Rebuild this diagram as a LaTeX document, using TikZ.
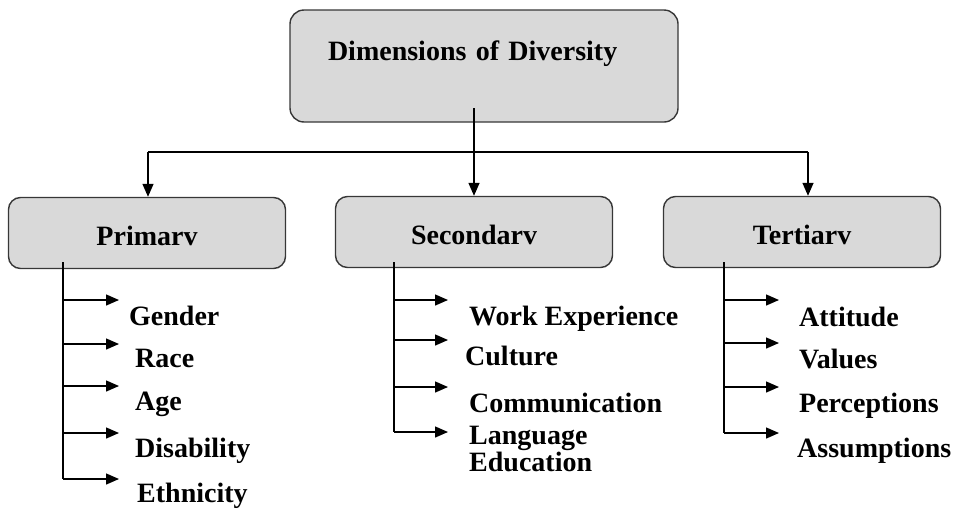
\documentclass[tikz,border=0pt]{standalone}
\usepackage{fontspec}
\setmainfont{Liberation Serif}
\usetikzlibrary{arrows.meta}
\definecolor{boxgray}{RGB}{217,217,217}
\definecolor{edgegray}{RGB}{55,55,55}
\newcommand{\headfont}{\bfseries\fontsize{28}{25}\selectfont}
\tikzstyle{rootbox} = [rectangle, draw=edgegray, fill=boxgray, rounded corners=14pt, line width=1.4pt, text width=312pt, inner xsep=38pt, inner ysep=0pt, text height=50pt, text depth=62pt, align=left, font=\headfont]
\tikzstyle{block} = [rectangle, draw=edgegray, fill=boxgray, rounded corners=12pt, line width=1.4pt, minimum width=277pt, minimum height=71pt, text height=24pt, text depth=0pt, font=\headfont]
\tikzstyle{leaf} = [anchor=base west, inner sep=0pt, font=\headfont]
\tikzstyle{stem} = [draw, line width=1.4pt]
\tikzstyle{line} = [draw, line width=1.4pt, ->, >={Triangle[length=13pt,width=11pt]}]

\begin{document}
\begin{tikzpicture}[x=1pt, y=-1pt]
\useasboundingbox (0,0) rectangle (962,512);

\node [rootbox, anchor=base] (root) at (484,60) {Dimensions of Diversity};

\node [block] (pri) at (147,233) {Primarv};
\node [block] (sec) at (474,232) {Secondarv};
\node [block] (ter) at (802,232) {Tertiarv};

% root down to the three groups
\coordinate (drop) at (474,108);
\coordinate (pdrop) at (148,152);
\coordinate (tdrop) at (808,152);
\path [line] (drop) -- (sec.north);
\path [stem] (pdrop) -- (tdrop);
\path [line] (pdrop) -- (pdrop |- pri.north);
\path [line] (tdrop) -- (tdrop |- ter.north);

% primary
\coordinate (pstem) at (63,262);
\coordinate (p1) at (119,300);
\coordinate (p2) at (119,344);
\coordinate (p3) at (119,386);
\coordinate (p4) at (119,433);
\coordinate (p5) at (119,479);
\node [leaf] (gender) at (129,325) {Gender};
\node [leaf] (race) at (135,367) {Race};
\node [leaf] (age) at (135,410) {Age};
\node [leaf] (disab) at (135,457) {Disability};
\node [leaf] (ethn) at (137,502) {Ethnicity};
\path [stem] (pstem) -- (pstem |- p5);
\path [line] (pstem |- p1) -- (p1);
\path [line] (pstem |- p2) -- (p2);
\path [line] (pstem |- p3) -- (p3);
\path [line] (pstem |- p4) -- (p4);
\path [line] (pstem |- p5) -- (p5);

% secondary
\coordinate (sstem) at (394,262);
\coordinate (s1) at (448,300);
\coordinate (s2) at (448,340);
\coordinate (s3) at (448,387);
\coordinate (s4) at (448,432);
\node [leaf] (work) at (469,325) {Work Experience};
\node [leaf] (cult) at (465,365) {Culture};
\node [leaf] (comm) at (469,412) {Communication};
\node [leaf] (lang) at (469,444) {Language};
\node [leaf] (educ) at (469,471) {Education};
\path [stem] (sstem) -- (sstem |- s4);
\path [line] (sstem |- s1) -- (s1);
\path [line] (sstem |- s2) -- (s2);
\path [line] (sstem |- s3) -- (s3);
\path [line] (sstem |- s4) -- (s4);

% tertiary
\coordinate (tstem) at (724,262);
\coordinate (t1) at (779,300);
\coordinate (t2) at (779,343);
\coordinate (t3) at (779,387);
\coordinate (t4) at (779,433);
\node [leaf] (att) at (799,326) {Attitude};
\node [leaf] (val) at (799,368) {Values};
\node [leaf] (perc) at (799,412) {Perceptions};
\node [leaf] (assum) at (797,457) {Assumptions};
\path [stem] (tstem) -- (tstem |- t4);
\path [line] (tstem |- t1) -- (t1);
\path [line] (tstem |- t2) -- (t2);
\path [line] (tstem |- t3) -- (t3);
\path [line] (tstem |- t4) -- (t4);

\end{tikzpicture}
\end{document}
